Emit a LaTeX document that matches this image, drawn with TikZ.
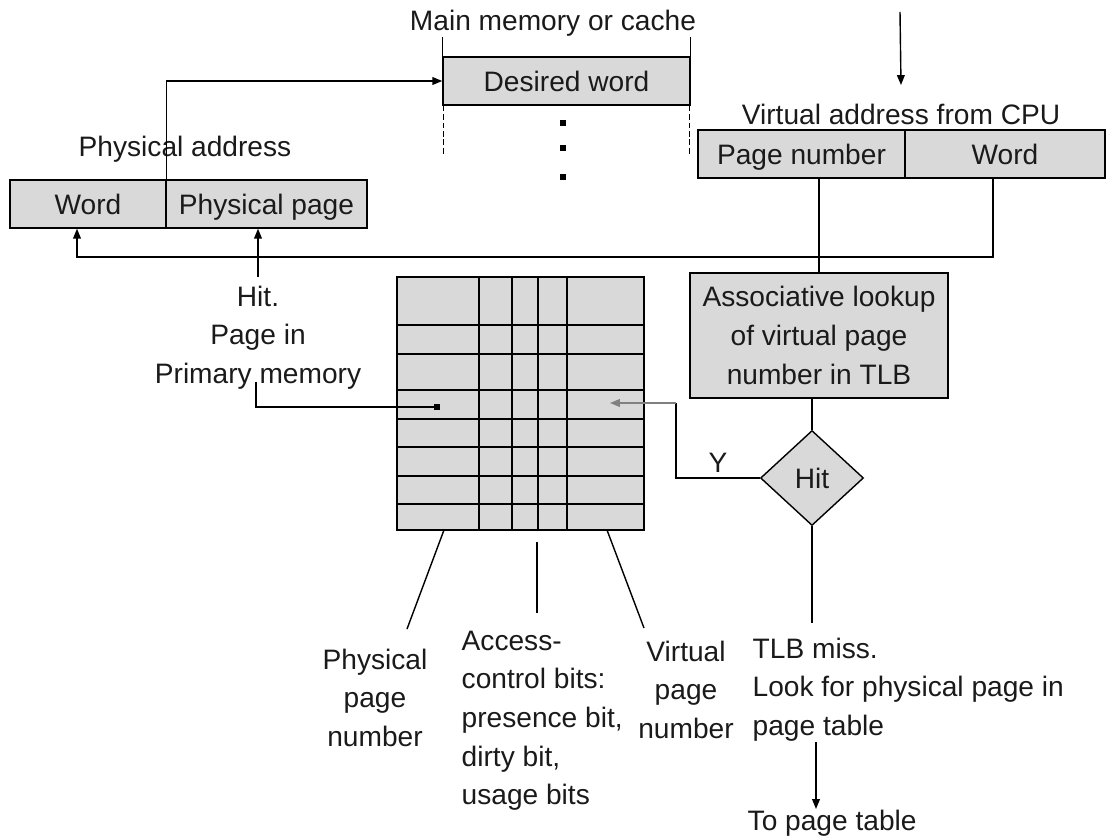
\documentclass[tikz,border=0pt]{standalone}
\usepackage{fontspec}
\setmainfont{Liberation Sans}
\usetikzlibrary{shapes.geometric,arrows.meta}
\definecolor{grisCaja}{HTML}{D9D9D9}
\definecolor{grisTexto}{HTML}{1A1A1A}

\begin{document}
\begin{tikzpicture}[x=0.025cm,y=-0.025cm,line width=1pt,
    font=\fontsize{20}{27.5}\selectfont,text=grisTexto,
    caja/.style={draw,fill=grisCaja,inner sep=0pt,minimum height=1.2cm,text height=14.6pt,text depth=0pt},
    rotulo/.style={inner sep=0pt},
    punteada/.style={line width=0.8pt,dash pattern=on 4pt off 2pt},
    flecha/.style={-{Triangle[length=7pt,width=5.5pt]}}]
    \useasboundingbox (0,0) rectangle (1110,839);

    \node[caja,minimum width=3.9cm] (pword) at (88,204) {Word};
    \node[caja,minimum width=5.025cm] (ppage) at (266.5,204) {Physical page};
    \node[rotulo,anchor=north] (plbl) at (185,135) {Physical address};

    \node[caja,minimum width=6.175cm] (mem) at (566.5,81) {Desired word};
    \node[rotulo,anchor=north] (memlbl) at (553,9) {Main memory or cache};
    \draw (mem.north west) -- ++(0,-19);
    \draw (mem.north east) -- ++(0,-19);
    \draw[punteada] ([xshift=1pt]mem.south west) -- ++(0,48);
    \draw[punteada] ([xshift=-1pt]mem.south east) -- ++(0,48);
    \foreach \y in {123,148,177}
      \fill (563,\y) +(-3,-3) rectangle +(3,3);

    \node[caja,minimum width=5.175cm] (vpage) at (801.5,154) {Page number};
    \node[caja,minimum width=5cm] (vword) at (1005,154) {Word};
    \node[rotulo,anchor=north] (vlbl) at (901,103) {Virtual address from CPU};
    \coordinate (cpu) at (900,12);
    \draw[flecha] (cpu) -- ([yshift=0.45cm]vlbl.north);

    \draw[flecha] (pword.north east) |- (mem.west);

    \node[draw,fill=grisCaja,inner sep=0pt,minimum width=6.45cm,minimum height=3.125cm,align=center] (assoc) at (819,335.5)
      {Associative lookup\\of virtual page\\number in TLB};
    \node[diamond,draw,fill=grisCaja,inner sep=0pt,minimum width=2.575cm,minimum height=2.375cm] (hit) at (812,478) {Hit};
    \draw (assoc.north |- vpage.south) -- (assoc.north);
    \draw (hit.north |- assoc.south) -- (hit.north);
    \coordinate (miss) at (812,623);
    \draw (hit.south) -- (miss);

    \coordinate (bus) at (77,257);
    \draw[flecha] ([xshift=-0.3cm]vword.south) |- (bus) -- (bus |- pword.south);

    \node[rotulo,anchor=north,align=center] (hitlbl) at (258,285) {Hit.\\Page in\\Primary memory};
    \draw[flecha] ([yshift=0.2cm]hitlbl.north) -- (hitlbl.north |- ppage.south);

    \node[draw,fill=grisCaja,inner sep=0pt,minimum width=6.175cm,minimum height=6.325cm] (tabla) at (520.5,403.5) {};
    \foreach \x in {479,512,538,567}
      \draw (\x,277) -- (\x,530);
    \foreach \y in {325,354,390,419,447,476,504}
      \draw (397,\y) -- (644,\y);

    \coordinate (ppn) at (440,407);
    \draw[-{Square[length=4pt,width=4pt]}] ([xshift=-0.05cm,yshift=0.2cm]hitlbl.south) |- (ppn);

    \coordinate (yk) at (676,403);
    \coordinate (vpn) at (610,403);
    \draw (hit.west) -| (yk);
    \draw[flecha,draw=gray] (yk) -- (vpn);
    \node[rotulo,anchor=south] (ylbl) at (718,473) {Y};

    \draw (444,530) -- (407,629);
    \draw (537,542) -- (537,613);
    \draw (607,530) -- (644,628);

    \node[rotulo,anchor=north,align=center] (ppnlbl) at (375,648) {Physical\\page\\number};
    \node[rotulo,anchor=north west,align=left] (acclbl) at (461,630) {Access-\\control bits:\\presence bit,\\dirty bit,\\usage bits};
    \node[rotulo,anchor=north,align=center] (vpnlbl) at (686,640) {Virtual\\page\\number};
    \node[rotulo,anchor=north west,align=left] (misslbl) at (752,637) {TLB miss.\\Look for physical page in\\page table};
    \node[rotulo,anchor=north west] (topt) at (747,809) {To page table};
    \draw[flecha] (816,742) -- (topt.north -| 816,0);
  \end{tikzpicture}
\end{document}
